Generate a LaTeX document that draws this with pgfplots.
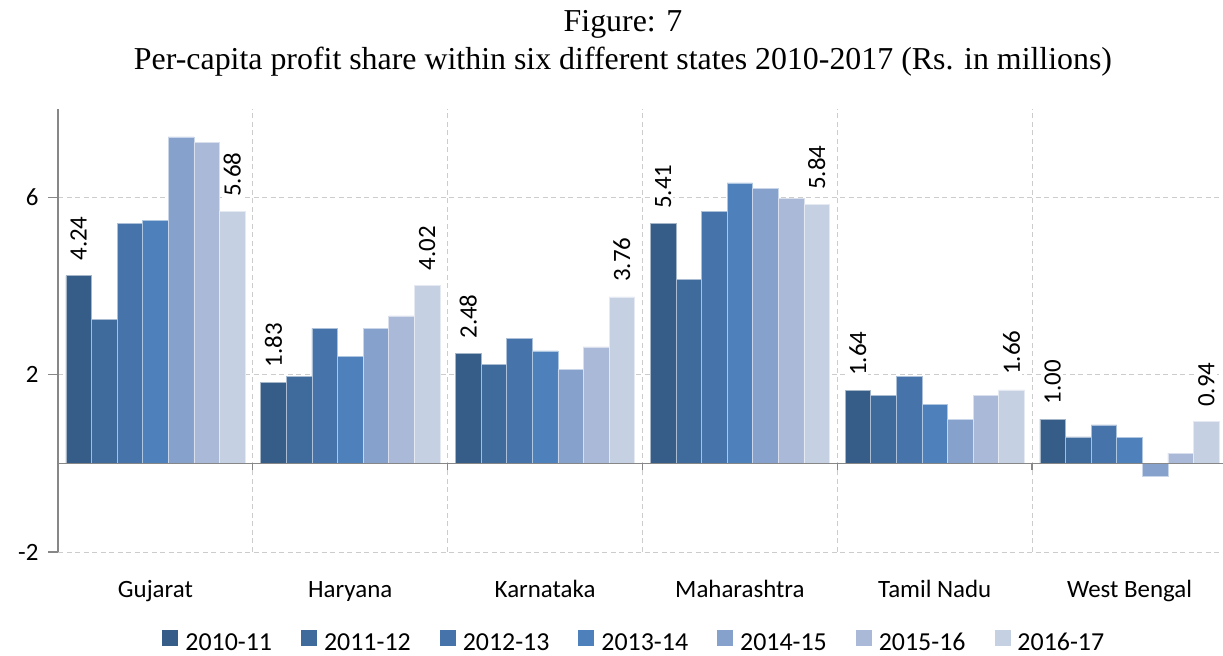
\documentclass[border=0pt]{standalone}
\usepackage{pgfplots}
\pgfplotsset{compat=1.18}
\usepackage{pgfplotstable}
\usepackage{fontspec}
\setmainfont{Liberation Serif}
\newfontfamily\calibri{Carlito}

\definecolor{c1}{HTML}{365C88}
\definecolor{c2}{HTML}{3F6A9C}
\definecolor{c3}{HTML}{4674AA}
\definecolor{c4}{HTML}{4E80BC}
\definecolor{c5}{HTML}{86A1CB}
\definecolor{c6}{HTML}{AAB9D7}
\definecolor{c7}{HTML}{C5D0E2}
\definecolor{axisgray}{HTML}{878787}
\definecolor{gridgray}{HTML}{CCCCCC}

% per-capita profit share, one row per state
\pgfplotstableread{
x  a     b     c     d     e     f     g
0  4.24  3.25  5.41  5.49  7.37  7.24  5.68
1  1.83  1.96  3.05  2.42  3.05  3.33  4.02
2  2.48  2.24  2.83  2.54  2.12  2.63  3.76
3  5.41  4.16  5.68  6.33  6.21  5.98  5.84
4  1.64  1.53  1.97  1.33  1.00  1.54  1.66
5  1.00  0.60  0.87  0.59  -0.29 0.23  0.94
}\data

\newcommand{\lblfont}{\calibri\fontsize{25}{30}\selectfont}

\pgfplotsset{
  vlabels/.style={
    nodes near coords={\pgfmathprintnumber[fixed,fixed zerofill,precision=2,assume math mode=true]{\pgfplotspointmeta}},
    nodes near coords align={west},
    every node near coord/.append style={rotate=90, anchor=west, font=\lblfont,
      fill=white, inner sep=2bp, outer xsep=13bp, text=black},
  },
}

\begin{document}
\begin{tikzpicture}
\path[use as bounding box] (0,0) rectangle (1223bp,656bp);

\node[font=\fontsize{32}{38}\selectfont, anchor=base] at (623bp,624bp) {Figure: 7};
\node[font=\fontsize{32}{38}\selectfont, anchor=base] at (623bp,586bp)
  {Per-capita profit share within six different states 2010-2017 (Rs. in millions)};

\begin{axis}[
  at={(58bp,104bp)}, anchor=south west,
  scale only axis, width=1169bp, height=443bp,
  ybar=0pt, bar width=0.1314,
  xmin=-0.5, xmax=5.5, ymin=-2, ymax=8,
  axis x line*=bottom, axis y line*=left,
  x axis line style={draw=none},
  y axis line style={draw=axisgray, line width=1.3bp, -},
  xtick={0,...,5},
  xticklabels={Gujarat,Haryana,Karnataka,Maharashtra,Tamil Nadu,West Bengal},
  minor xtick={0.5,1.5,...,5.5},
  xminorgrids,
  major x tick style={draw=none},
  minor x tick style={draw=none},
  ytick={-2,2,6}, yticklabels={-2,2,6},
  ymajorgrids,
  ytick style={draw=axisgray, line width=1.3bp},
  tick align=outside, major tick length=10bp,
  grid style={gridgray, line width=1bp, dash pattern=on 5bp off 3.5bp},
  minor grid style={gridgray, line width=1bp, dash pattern=on 5bp off 3.5bp},
  major grid style={gridgray, line width=1bp, dash pattern=on 5bp off 3.5bp},
  tick label style={font=\lblfont},
  xticklabel style={anchor=base, yshift=-35bp},
  yticklabel style={xshift=-6bp},
  legend columns=7,
  legend style={at={(0.493,-0.203)}, anchor=center, draw=none, fill=none,
    font=\calibri\fontsize{26}{30}\selectfont,
    /tikz/every odd column/.append style={column sep=5bp},
    /tikz/every even column/.append style={column sep=27bp}},
  legend image code/.code={\fill[#1, draw=none] (0bp,-3bp) rectangle (16bp,13bp);},
  clip=false,
]
\addplot[fill=c1, draw=white!55!c1, line width=0.6bp, vlabels] table[x=x,y=a]{\data};
\addplot[fill=c2, draw=white!55!c2, line width=0.6bp] table[x=x,y=b]{\data};
\addplot[fill=c3, draw=white!55!c3, line width=0.6bp] table[x=x,y=c]{\data};
\addplot[fill=c4, draw=white!55!c4, line width=0.6bp] table[x=x,y=d]{\data};
\addplot[fill=c5, draw=white!55!c5, line width=0.6bp] table[x=x,y=e]{\data};
\addplot[fill=c6, draw=white!55!c6, line width=0.6bp] table[x=x,y=f]{\data};
\addplot[fill=c7, draw=white!55!c7, line width=0.6bp, vlabels] table[x=x,y=g]{\data};
\legend{2010-11,2011-12,2012-13,2013-14,2014-15,2015-16,2016-17}

\draw[axisgray, line width=1.5bp] (axis cs:-0.5,0) -- (axis cs:5.5,0);
\pgfplotsinvokeforeach{0.5,1.5,2.5,3.5,4.5}{
  \draw[axisgray, line width=1.3bp] (axis cs:#1,0) -- ++(0bp,-7bp);
}
\end{axis}
\end{tikzpicture}
\end{document}
